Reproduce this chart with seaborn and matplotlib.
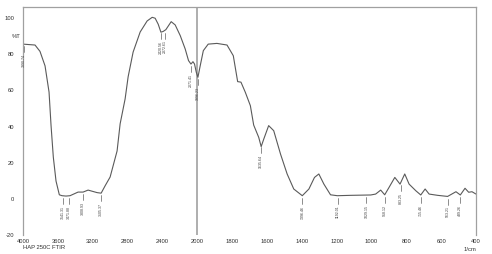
import numpy as np
import pandas as pd
import matplotlib
matplotlib.use("Agg")
import matplotlib.pyplot as plt
import seaborn as sns

# ---- data ----
wavenumber = [4000, 3862, 3805, 3747, 3701, 3678, 3652, 3621, 3583, 3552, 3506, 3460,
              3368, 3310, 3253, 3149, 3103, 3057, 3000, 2920, 2885, 2828, 2793, 2736,
              2655, 2575, 2517, 2483, 2448, 2417, 2391, 2360, 2299, 2253, 2195, 2138,
              2100, 2072, 2049, 2031, 2011, 1996, 1983, 1965, 1937, 1887, 1829, 1793,
              1768, 1749, 1724, 1695, 1676, 1647, 1633, 1618, 1590, 1561, 1522, 1484,
              1446, 1397, 1359, 1327, 1302, 1273, 1235, 1196, 1120, 1004, 976, 947,
              924, 899, 866, 836, 809, 784, 745, 717, 692, 669, 620, 563, 515, 490,
              463, 442, 423, 400]
transmittance = [85.0, 84.5, 81.0, 73.0, 58.5, 40.0, 22.6, 9.4, 1.8, 1.3, 1.1, 1.3,
                 3.3, 3.3, 4.4, 3.0, 2.7, 6.8, 11.6, 26.0, 41.0, 54.7, 67.0, 80.6,
                 91.7, 97.8, 99.8, 99.3, 96.0, 91.6, 92.0, 93.0, 97.4, 95.6, 89.7, 82.3,
                 75.9, 74.0, 75.3, 74.0, 69.5, 66.7, 73.0, 81.4, 85.0, 85.4, 84.5, 78.6,
                 64.3, 64.0, 58.4, 51.0, 40.3, 33.5, 28.4, 32.6, 40.0, 37.2, 24.3, 13.3,
                 5.0, 1.3, 5.0, 11.4, 13.3, 7.7, 1.8, 1.3, 1.5, 1.7, 2.2, 4.4,
                 1.8, 5.9, 11.4, 7.7, 13.3, 7.7, 4.0, 1.7, 5.0, 2.2, 1.5, 0.9, 3.5, 1.7,
                 5.4, 3.2, 3.5, 2.2]

peak_positions = [3990, 3541, 3472, 3309, 3105, 2421, 2373, 2071, 1996,
                  1635, 1396, 1193, 1029, 924, 832, 716, 563, 490]
peak_labels = ["3990.74", "3541.31", "3471.88", "3308.93", "3105.37", "2420.56",
               "2372.61", "2071.41", "1996.23", "1635.64", "1396.46", "1192.01",
               "1029.15", "918.12", "833.25", "715.46", "563.21", "489.26"]

x_ticks = [4000, 3600, 3200, 2800, 2400, 2000, 1800, 1600, 1400, 1200, 1000, 800, 600, 400]
y_ticks = [-20, 0, 20, 40, 60, 80, 100]

title_text = "HAP 250C FTIR"
x_unit = "1/cm"
y_unit = "%T"

df = pd.DataFrame({"wn": wavenumber, "T": transmittance})

sns.set_style("white")
plt.rcParams["font.family"] = ["Liberation Sans", "DejaVu Sans"]

fig = plt.figure(figsize=(4.92, 2.55), dpi=100)
ax = fig.add_axes([23 / 492, 1 - 236 / 255, (476 - 23) / 492, (236 - 8) / 255])


def fwd(x):
    x = np.asarray(x, dtype=float)
    return np.where(x > 2000, 2000 + (x - 2000) / 2.0, x)


def inv(u):
    u = np.asarray(u, dtype=float)
    return np.where(u > 2000, 2000 + (u - 2000) * 2.0, u)


ax.set_xscale("function", functions=(fwd, inv))

sns.lineplot(data=df, x="wn", y="T", ax=ax, color="#5a5a5a", lw=0.8, sort=False,
             estimator=None)

ax.set_xlim(4000, 400)
ax.set_ylim(-20.4, 105.5)

# vertical divider at scale change
ax.axvline(2000, color="#a8a8a8", lw=1.3, zorder=1)

# peak markers
spec_wn = np.array(wavenumber[::-1], dtype=float)
spec_t = np.array(transmittance[::-1], dtype=float)
for pos, lab in zip(peak_positions, peak_labels):
    tval = np.interp(pos, spec_wn, spec_t)
    ax.plot([pos, pos], [tval - 1.2, tval - 4.5], color="#606060", lw=0.5)
    ax.text(pos, tval - 5.0, lab, rotation=90, ha="center", va="top",
            fontsize=2.6, color="#404040")

# axes styling
for side in ["top", "right", "left"]:
    ax.spines[side].set_color("#a0a0a0")
    ax.spines[side].set_linewidth(0.9)
ax.spines["bottom"].set_visible(False)

ax.set_xticks(x_ticks)
ax.set_xticklabels([str(v) for v in x_ticks])
minor_x = np.concatenate([np.arange(2000, 4001, 50), np.arange(400, 2000, 25)])
ax.set_xticks(minor_x, minor=True)
ax.set_yticks(y_ticks)
ax.set_yticklabels([str(v) for v in y_ticks])
ax.set_yticks(np.arange(-20, 101, 5), minor=True)

ax.tick_params(axis="x", which="major", direction="in", length=4, width=0.5,
               color="#707070", labelsize=4.2, labelcolor="#303030", pad=2)
ax.tick_params(axis="x", which="minor", direction="in", length=2, width=0.5,
               color="#909090")
ax.tick_params(axis="y", which="major", direction="out", length=5, width=0.6,
               color="#808080", labelsize=4.2, labelcolor="#303030", pad=1.5)
ax.tick_params(axis="y", which="minor", direction="out", length=2.5, width=0.5,
               color="#909090")
ax.set_xlabel("")
ax.set_ylabel("")

ax.text(-0.005, 90, y_unit, transform=ax.get_yaxis_transform(), ha="right",
        va="center", fontsize=4.2, color="#303030")
ax.text(0.0, -0.038, title_text, transform=ax.transAxes, ha="left", va="top",
        fontsize=4.2, color="#303030")
ax.text(1.0, -0.048, x_unit, transform=ax.transAxes, ha="right", va="top",
        fontsize=4.2, color="#303030")

fig.savefig("out.png", dpi=100)
